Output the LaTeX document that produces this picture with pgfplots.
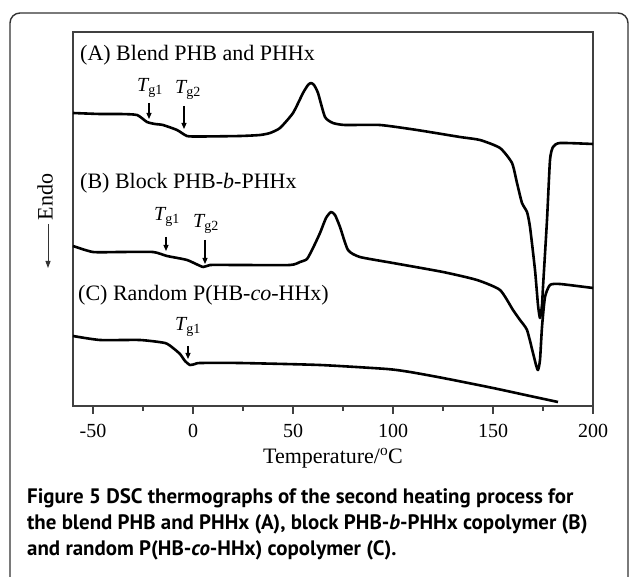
\documentclass[border=0pt]{standalone}
\usepackage{fontspec}
\setmainfont{Liberation Serif}
\newfontfamily\capfont{PT Sans}
\usepackage{pgfplots}
\pgfplotsset{compat=1.18}
\usetikzlibrary{arrows.meta}

% DSC traces (x in degC, y in arbitrary offset units)
\pgfplotstableread{
x y
-60 -113
-46.5 -114
-36.5 -114
-28 -115
-23 -122
-19 -124
-15 -125
-8 -130
-3 -136
3.5 -136.5
23.5 -136
33.5 -135
38.5 -133
43.5 -128
50 -113
55 -93
57.5 -85
59 -83
60.5 -85
62.5 -93
66 -117
70 -123
76 -125
93.5 -125
112 -130
133.5 -137
143.5 -140
153.5 -148
159.5 -163
162 -183
164.5 -203
167 -212
168.5 -227
171 -270
172.5 -305
173.5 -318
174.5 -305
175 -287
177 -220
178.5 -160
180 -147
183.5 -143
200 -144
}\blend

\pgfplotstableread{
x y
-60 -246
-50 -252
-36.5 -252
-20 -252
-13 -256
-3 -260
5 -267
8.5 -265
23.5 -265
48.5 -265
53.5 -262
57 -259
60 -248
63.5 -233
66.5 -218
69 -212
71 -215
73.5 -227
77.5 -250
83.5 -257
100 -263
125 -272
142 -280
153.5 -290
160 -310
163.5 -320
167 -330
170 -353
171.5 -365
172.5 -370
173.5 -360
174.5 -327
176 -297
178.5 -285
183.5 -284
200 -288
}\block

\pgfplotstableread{
x y
-60 -336
-46.5 -340
-26.5 -340
-14 -343
-10 -348
-6.5 -354
-4 -361
-1.5 -365
1 -364
3.5 -363
23.5 -363
63.5 -365
97 -369
108.5 -372
125 -378
150 -388
168.5 -396
182.5 -402
}\random

\newcommand{\Tg}[1]{{\itshape T}\textsubscript{g#1}}

\begin{document}
\begin{tikzpicture}
\useasboundingbox (0pt,0pt) rectangle (630pt,-577pt);
% frame round figure and caption
\draw[line width=1.4pt, black!80, rounded corners=10pt]
  (10pt,-600pt) -- (10pt,-13pt) -- (628pt,-13pt) -- (628pt,-600pt);

\begin{axis}[
  at={(73pt,-406pt)}, anchor=south west,
  width=520pt, height=374pt, scale only axis,
  xmin=-60, xmax=200, ymin=-406, ymax=-32,
  xtick={-50,0,...,200},
  minor xtick={-25,25,...,175},
  ytick=\empty,
  xtick pos=bottom,
  tick align=outside,
  major tick length=8pt, minor tick length=5pt,
  every tick/.style={black!75, line width=1.2pt},
  axis line style={black!75, line width=1.3pt},
  /pgf/number format/assume math mode=true,
  xticklabel style={font=\fontsize{20}{24}\selectfont, anchor=base, inner sep=0pt, yshift=-23pt},
  xlabel={Temperature/\textsuperscript{o}C},
  xlabel style={font=\fontsize{22}{26}\selectfont, at={(axis description cs:0.5,0)}, anchor=base, inner sep=0pt, yshift=-57pt},
  clip=false,
]
\addplot[black, line width=2.6pt, line join=round, smooth, tension=0.35] table {\blend};
\addplot[black, line width=2.6pt, line join=round, smooth, tension=0.35] table {\block};
\addplot[black, line width=2.6pt, line join=round, smooth, tension=0.35] table {\random};

\begin{scope}[every node/.style={font=\fontsize{22}{26}\selectfont, inner sep=0pt}]
\node[anchor=west] at (axis cs:-56.5,-55) {(A) Blend PHB and PHHx};
\node[anchor=west] at (axis cs:-56.5,-183) {(B) Block PHB-\textit{b}-PHHx};
\node[anchor=west] at (axis cs:-57.5,-295) {(C) Random P(HB-\textit{co}-HHx)};
\end{scope}

\begin{scope}[every node/.style={font=\fontsize{20}{24}\selectfont, inner sep=0pt},
  tg/.style={-{Triangle[length=6pt, width=5pt]}, line width=1.1pt, black}]
\node at (axis cs:-21.5,-88) {\Tg{1}};
\node at (axis cs:-2.5,-90) {\Tg{2}};
\draw[tg] (axis cs:-22,-103) -- (axis cs:-22,-119);
\draw[tg] (axis cs:-4.5,-106) -- (axis cs:-4.5,-129);
\node at (axis cs:-13,-217) {\Tg{1}};
\node at (axis cs:6.5,-224) {\Tg{2}};
\draw[tg] (axis cs:-13.5,-237) -- (axis cs:-13.5,-251);
\draw[tg] (axis cs:6,-240) -- (axis cs:6,-264);
\node at (axis cs:-2.5,-327) {\Tg{1}};
\draw[tg] (axis cs:-2.5,-346) -- (axis cs:-2.5,-359);
\end{scope}
\end{axis}

% y-axis label with downward arrow
\node[rotate=90, font=\fontsize{22}{26}\selectfont, inner sep=0pt] at (45pt,-197pt) {Endo};
\draw[-{Triangle[length=7pt, width=5pt]}, line width=0.9pt, black!80] (48pt,-224pt) -- (48pt,-268pt);

% caption
\begin{scope}[every node/.style={font=\capfont\bfseries\fontsize{20.9}{24}\selectfont, anchor=base west, inner sep=0pt}]
\node at (27pt,-504pt) {Figure 5 DSC thermographs of the second heating process for};
\node at (27pt,-530pt) {the blend PHB and PHHx (A), block PHB-\textit{b}-PHHx copolymer (B)};
\node at (27pt,-555pt) {and random P(HB-\textit{co}-HHx) copolymer (C).};
\end{scope}
\end{tikzpicture}
\end{document}
